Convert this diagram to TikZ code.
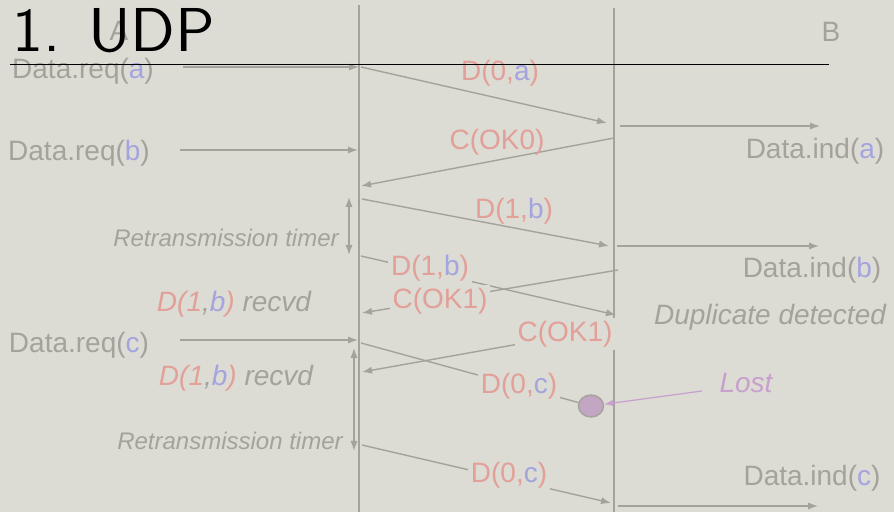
\documentclass[tikz,border=0pt]{standalone}
\usepackage{fontspec}
\setmainfont{Liberation Sans}
\newfontfamily\titlefont{lmsans10-regular.otf}
\usepackage{tikz}
\usetikzlibrary{shapes.geometric}
\usetikzlibrary{arrows.meta}
\definecolor{paper}{RGB}{220,219,212}
\definecolor{ink}{RGB}{163,163,155}
\definecolor{pdured}{RGB}{226,160,152}
\definecolor{sdublue}{RGB}{164,164,222}
\definecolor{lostpurple}{RGB}{200,160,205}
\definecolor{lostfill}{RGB}{194,166,196}
\tikzstyle{prim} = [text=ink, inner sep=1.5pt, font=\fontsize{14}{16}\selectfont]
\tikzstyle{note} = [prim, font=\fontsize{14}{16}\selectfont\itshape]
\tikzstyle{timer} = [prim, font=\fontsize{12}{14}\selectfont\itshape]
\tikzstyle{onwire} = [prim, fill=paper]
\tikzstyle{life} = [ink, line width=0.7pt]
\tikzstyle{wire} = [ink, line width=0.7pt, -{Latex[length=5pt,width=3.6pt]}]
\tikzstyle{span} = [ink, line width=0.7pt, {Latex[length=5pt,width=3.6pt]}-{Latex[length=5pt,width=3.6pt]}]
\newcommand{\svcprim}[2]{Data.#1(\textcolor{sdublue}{#2})}
\newcommand{\datapdu}[2]{\textcolor{pdured}{D(#1,}\textcolor{sdublue}{#2}\textcolor{pdured}{)}}
\newcommand{\okmsg}[1]{\textcolor{pdured}{C(OK#1)}}
\newcommand{\gotdup}{\textcolor{pdured}{D(1}\textcolor{ink}{,}\textcolor{sdublue}{b}\textcolor{pdured}{)} recvd}

\begin{document}
\begin{tikzpicture}[x=0.5pt,y=-0.5pt]
	\fill[paper] (0,0) rectangle (894,512);
	\useasboundingbox (0,0) rectangle (894,512);
	\coordinate (A0) at (359,5);
	\coordinate (A1) at (359,512);
	\coordinate (B0) at (614,8);
	\coordinate (B1) at (614,512);
	\draw[life] (A0) -- (A1);
	\draw[life] (B0) -- (B1);
	\node[prim] (nameA) at (119,31) {A};
	\node[prim] (nameB) at (831,32) {B};

	\node[prim] (reqa) at (83,71) {\svcprim{req}{a}};
	\coordinate (reqa0) at (183,67);
	\coordinate (reqa1) at (359,67);
	\draw[wire] (reqa0) -- (reqa1);
	\coordinate (da0) at (361,67);
	\coordinate (da1) at (607,123);
	\draw[wire] (da0) -- (da1);
	\node[prim] (dalab) at (500,73) {\datapdu{0}{a}};
	\coordinate (inda0) at (620,126);
	\coordinate (inda1) at (820,126);
	\draw[wire] (inda0) -- (inda1);
	\node[prim] (inda) at (815,151) {\svcprim{ind}{a}};

	\node[prim] (reqb) at (79,153) {\svcprim{req}{b}};
	\coordinate (reqb0) at (180,150);
	\coordinate (reqb1) at (358,150);
	\draw[wire] (reqb0) -- (reqb1);
	\coordinate (ok00) at (614,138);
	\coordinate (ok01) at (361,186);
	\draw[wire] (ok00) -- (ok01);
	\node[prim] (ok0lab) at (497,142) {\okmsg{0}};

	\coordinate (db0) at (362,199);
	\coordinate (db1) at (609,246);
	\draw[wire] (db0) -- (db1);
	\node[prim] (dblab) at (514,211) {\datapdu{1}{b}};
	\coordinate (indb0) at (617,246);
	\coordinate (indb1) at (819,246);
	\draw[wire] (indb0) -- (indb1);
	\node[prim] (indb) at (812,270) {\svcprim{ind}{b}};
	\coordinate (rto0) at (349,197);
	\coordinate (rto1) at (349,255);
	\draw[span] (rto0) -- (rto1);
	\node[timer] (rtolab) at (226,238) {Retransmission timer};

	\coordinate (dbb0) at (361,256);
	\coordinate (dbb1) at (616,315);
	\draw[wire] (dbb0) -- (dbb1);
	\node[onwire] (dbblab) at (430,268) {\datapdu{1}{b}};
	\coordinate (ok10) at (618,270);
	\coordinate (ok11) at (362,313);
	\draw[wire] (ok10) -- (ok11);
	\node[onwire] (ok1lab) at (440,301) {\okmsg{1}};
	\node[note] (dup1) at (234,304) {\gotdup};
	\node[note] (dupB) at (770,317) {Duplicate detected};

	\node[prim] (reqc) at (79,345) {\svcprim{req}{c}};
	\coordinate (reqc0) at (180,340);
	\coordinate (reqc1) at (358,340);
	\draw[wire] (reqc0) -- (reqc1);
	\node[note] (dup2) at (236,378) {\gotdup};
	\coordinate (ok1b0) at (614,327);
	\coordinate (ok1b1) at (362,372);
	\draw[wire] (ok1b0) -- (ok1b1);
	\node[onwire] (ok1blab) at (565,334) {\okmsg{1}};

	\node[ellipse, draw=ink, line width=0.7pt, fill=lostfill, minimum width=12.5pt, minimum height=11pt, inner sep=0pt] (lost) at (591,406) {};
	\coordinate (dc0) at (361,343);
	\draw[life] (dc0) -- (lost);
	\node[onwire] (dclab) at (519,386) {\datapdu{0}{c}};
	\node[note, text=lostpurple] (lostlab) at (746,383) {Lost};
	\coordinate (lost0) at (702,391);
	\draw[lostpurple, line width=0.6pt, -{Latex[length=4.5pt,width=3.2pt]}] (lost0) -- (lost);

	\coordinate (rtb0) at (354,348);
	\coordinate (rtb1) at (354,451);
	\draw[span] (rtb0) -- (rtb1);
	\node[timer] (rtblab) at (230,441) {Retransmission timer};
	\coordinate (dcc0) at (362,445);
	\coordinate (dcc1) at (611,503);
	\draw[wire] (dcc0) -- (dcc1);
	\node[onwire] (dcclab) at (509,475) {\datapdu{0}{c}};
	\coordinate (indc0) at (618,506);
	\coordinate (indc1) at (818,506);
	\draw[wire] (indc0) -- (indc1);
	\node[prim] (indc) at (812,478) {\svcprim{ind}{c}};

	\node[anchor=base west, inner sep=0pt, font=\fontsize{31}{34}\selectfont\titlefont] (title) at (12,52) {1. UDP};
	\coordinate (rule0) at (10,65);
	\coordinate (rule1) at (829,65);
	\draw[black, line width=0.5pt] (rule0) -- (rule1);
\end{tikzpicture}
\end{document}
